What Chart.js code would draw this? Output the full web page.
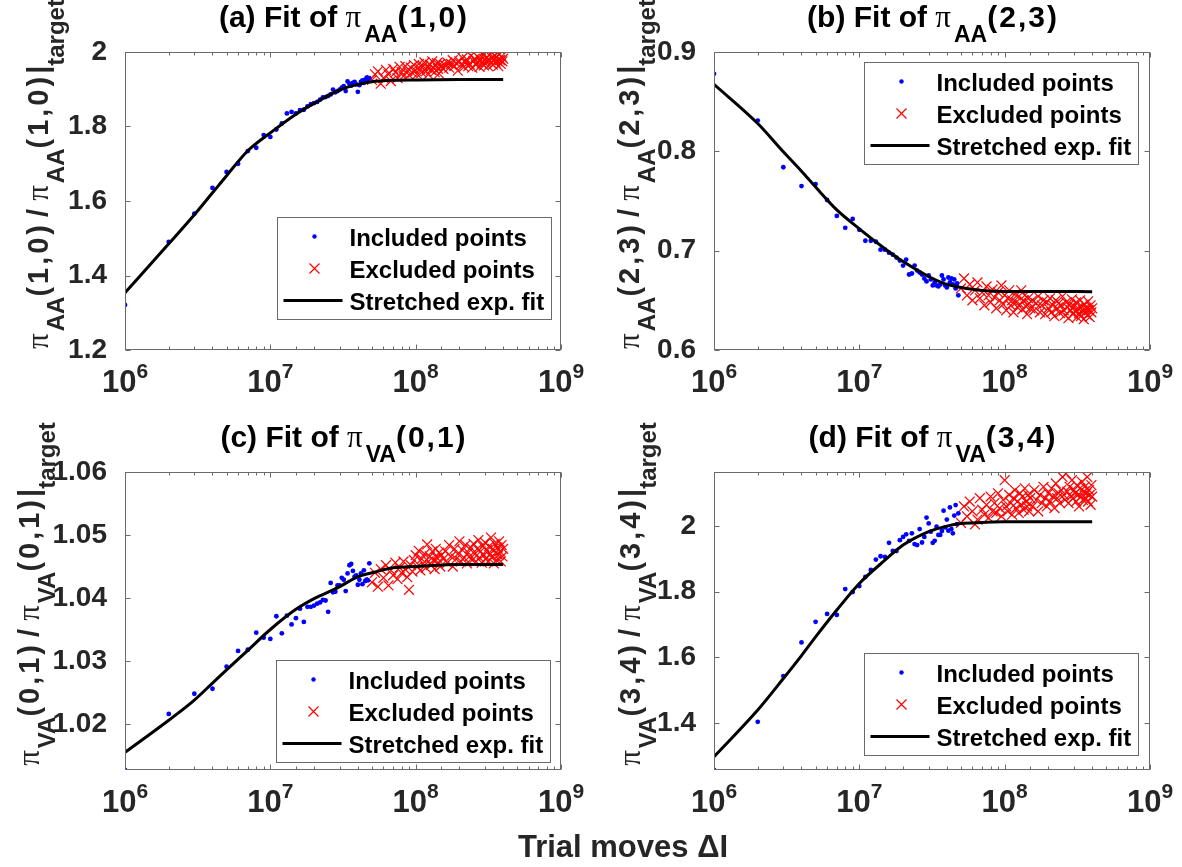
<!DOCTYPE html>
<html>
<head>
<meta charset="utf-8">
<script src="https://cdn.jsdelivr.net/npm/chart.js@4.4.1/dist/chart.umd.min.js"></script>
<style>
  body { margin: 0; background: #fff; width: 1182px; height: 867px; position: relative; overflow: hidden; }
  canvas { position: absolute; }
  #xlab { position: absolute; left: 423px; width: 400px; top: 831px; text-align: center;
          font: bold 31px 'Liberation Sans', Arial, sans-serif; line-height: 31px; color: #262626; white-space: nowrap; }
</style>
</head>
<body>
<canvas id="pa" width="590" height="420" style="left:0;top:0"></canvas>
<canvas id="pb" width="592" height="420" style="left:590px;top:0"></canvas>
<canvas id="pc" width="590" height="420" style="left:0;top:420px"></canvas>
<canvas id="pd" width="592" height="420" style="left:590px;top:420px"></canvas>
<div id="xlab">Trial moves ΔI</div>
<script>
// trial moves, in millions
let includedX = [1, 2, 3, 4, 5, 6, 7, 8, 9, 10, 11, 12, 13, 14, 15, 16, 17, 18, 19, 20,
  21, 22, 23, 24, 25, 26, 27, 28, 29, 30, 31, 32, 33, 34, 35, 36, 37, 38, 39, 40,
  41, 42, 43, 44, 45, 46, 47, 48];
let excludedX = [50, 52.5, 55, 57.5, 60, 62.5, 65, 67.5, 70, 72.5, 75, 77.5, 80, 82.5, 85, 87.5, 90, 92.5, 95, 97.5,
  100, 102.5, 105, 107.5, 110, 112.5, 115, 117.5, 120, 122.5, 125, 127.5, 130, 132.5, 135, 137.5, 140, 142.5, 145, 147.5, 150,
  155, 160, 165, 170, 175, 180, 185, 190, 195, 200, 205, 210, 215, 220, 225, 230, 235, 240, 245,
  250, 255, 260, 265, 270, 275, 280, 285, 290, 295, 300, 305, 310, 315, 320, 325, 330, 335, 340, 345,
  350, 355, 360, 365, 370, 375, 380, 385, 390, 395, 400];
let fitX = [1, 2, 3, 4, 5, 7, 10, 15, 20, 30, 40, 50, 70, 100, 200, 400];

let legendLabels = ['Included points', 'Excluded points', 'Stretched exp. fit'];
let decadeTicks = ['6', '7', '8', '9'];

// (a) pi_AA(1,0)
let yTicksA = [1.2, 1.4, 1.6, 1.8, 2];
let includedA = [1.321, 1.490, 1.566, 1.635, 1.678, 1.700, 1.734, 1.743, 1.777, 1.772,
  1.792, 1.808, 1.835, 1.839, 1.835, 1.844, 1.845, 1.854, 1.860, 1.863,
  1.866, 1.872, 1.878, 1.879, 1.882, 1.886, 1.899, 1.892, 1.895, 1.899,
  1.904, 1.908, 1.895, 1.921, 1.915, 1.910, 1.917, 1.920, 1.913, 1.893,
  1.911, 1.920, 1.924, 1.917, 1.926, 1.931, 1.925, 1.930];
let excludedA = [1.925, 1.940, 1.948, 1.915, 1.930, 1.952, 1.940, 1.922, 1.955, 1.945,
  1.930, 1.960, 1.946, 1.935, 1.962, 1.950, 1.938, 1.958, 1.944, 1.965,
  1.950, 1.940, 1.968, 1.955, 1.945, 1.962, 1.972, 1.948, 1.958, 1.940,
  1.966, 1.952, 1.975, 1.958, 1.946, 1.964, 1.970, 1.955, 1.942, 1.968, 1.960,
  1.955, 1.964, 1.972, 1.958, 1.968, 1.978, 1.962, 1.970, 1.950, 1.975,
  1.966, 1.984, 1.960, 1.972, 1.980, 1.962, 1.968, 1.990, 1.958, 1.976,
  1.982, 1.966, 1.972, 1.986, 1.960, 1.978, 1.970, 1.992, 1.964, 1.980,
  1.974, 1.986, 1.962, 1.978, 1.995, 1.970, 1.984, 1.966, 1.980, 1.990,
  1.972, 1.986, 1.976, 1.962, 1.994, 1.978, 1.968, 1.988, 1.975, 1.982];
let fitA = [1.354, 1.485, 1.563, 1.622, 1.668, 1.735, 1.783, 1.833, 1.862, 1.898, 1.913, 1.920, 1.924, 1.925, 1.926, 1.926];

// (b) pi_AA(2,3)
let yTicksB = [0.6, 0.7, 0.8, 0.9];
let includedB = [0.878, 0.831, 0.784, 0.765, 0.767, 0.751, 0.735, 0.723, 0.732, 0.721,
  0.710, 0.710, 0.709, 0.701, 0.701, 0.698, 0.696, 0.693, 0.690, 0.685,
  0.691, 0.676, 0.677, 0.685, 0.680, 0.678, 0.676, 0.672, 0.669, 0.675,
  0.671, 0.665, 0.668, 0.665, 0.664, 0.666, 0.675, 0.671, 0.665, 0.663,
  0.673, 0.668, 0.672, 0.666, 0.671, 0.662, 0.667, 0.655];
let excludedB = [0.662, 0.672, 0.655, 0.666, 0.650, 0.660, 0.668, 0.652, 0.658, 0.645,
  0.664, 0.655, 0.648, 0.661, 0.653, 0.642, 0.658, 0.650, 0.665, 0.646,
  0.655, 0.640, 0.652, 0.660, 0.645, 0.650, 0.638, 0.656, 0.648, 0.643,
  0.654, 0.646, 0.660, 0.641, 0.650, 0.655, 0.644, 0.636, 0.652, 0.647, 0.642,
  0.650, 0.640, 0.647, 0.654, 0.638, 0.645, 0.650, 0.636, 0.648, 0.642,
  0.652, 0.638, 0.645, 0.634, 0.650, 0.642, 0.647, 0.637, 0.645, 0.654,
  0.640, 0.635, 0.648, 0.643, 0.632, 0.646, 0.640, 0.651, 0.636, 0.644,
  0.639, 0.648, 0.633, 0.642, 0.637, 0.650, 0.634, 0.644, 0.640, 0.631,
  0.646, 0.638, 0.642, 0.635, 0.649, 0.640, 0.633, 0.645, 0.638, 0.642];
let fitB = [0.8675, 0.828, 0.7995, 0.780, 0.764, 0.741, 0.722, 0.702, 0.689, 0.674, 0.666, 0.663, 0.660, 0.659, 0.659, 0.6587];

// (c) pi_VA(0,1)
let yTicksC = [1.02, 1.03, 1.04, 1.05, 1.06];
let includedC = [1.0127, 1.0216, 1.0248, 1.0256, 1.0291, 1.0316, 1.0318, 1.0345, 1.0337, 1.0335,
  1.0371, 1.0344, 1.0372, 1.0358, 1.0368, 1.0383, 1.0362, 1.0386, 1.0386, 1.0388,
  1.0391, 1.0393, 1.0397, 1.0396, 1.0378, 1.0424, 1.0409, 1.0410, 1.0420, 1.0420,
  1.0432, 1.0429, 1.0411, 1.0439, 1.0452, 1.0454, 1.0443, 1.0434, 1.0436, 1.0421,
  1.0429, 1.0439, 1.0422, 1.0444, 1.0427, 1.0429, 1.0428, 1.0455];
let excludedC = [1.0425, 1.0440, 1.0418, 1.0446, 1.0432, 1.0452, 1.0420, 1.0444, 1.0436, 1.0456,
  1.0430, 1.0448, 1.0440, 1.0458, 1.0445, 1.0433, 1.0413, 1.0452, 1.0442, 1.0460,
  1.0468, 1.0450, 1.0475, 1.0444, 1.0462, 1.0455, 1.0470, 1.0448, 1.0485, 1.0458,
  1.0466, 1.0452, 1.0474, 1.0460, 1.0446, 1.0478, 1.0464, 1.0456, 1.0472, 1.0450, 1.0468,
  1.0462, 1.0474, 1.0456, 1.0484, 1.0466, 1.0450, 1.0478, 1.0462, 1.0470, 1.0490,
  1.0458, 1.0476, 1.0464, 1.0484, 1.0455, 1.0472, 1.0466, 1.0480, 1.0460, 1.0486,
  1.0470, 1.0458, 1.0478, 1.0492, 1.0464, 1.0474, 1.0456, 1.0482, 1.0468, 1.0488,
  1.0462, 1.0476, 1.0458, 1.0482, 1.0470, 1.0496, 1.0464, 1.0478, 1.0455, 1.0486,
  1.0472, 1.0460, 1.0480, 1.0468, 1.0490, 1.0474, 1.0458, 1.0484, 1.0466, 1.0478];
let fitC = [1.0155, 1.0206, 1.0238, 1.0265, 1.0286, 1.0317, 1.0350, 1.0382, 1.0399, 1.0418, 1.0434, 1.0440, 1.0448, 1.0450, 1.0453, 1.0453];

// (d) pi_VA(3,4)
let yTicksD = [1.4, 1.6, 1.8, 2];
let includedD = [1.256, 1.403, 1.5425, 1.645, 1.708, 1.732, 1.729, 1.808, 1.799, 1.817,
  1.845, 1.866, 1.898, 1.908, 1.906, 1.949, 1.924, 1.924, 1.957, 1.967,
  1.975, 1.955, 1.978, 1.945, 1.942, 1.991, 1.950, 1.967, 2.026, 2.008,
  1.983, 1.949, 1.955, 1.998, 1.973, 1.973, 1.985, 2.047, 1.996, 2.020,
  1.986, 2.057, 1.991, 1.978, 2.032, 2.064, 2.006, 2.039];
let excludedD = [2.010, 2.060, 2.030, 2.075, 2.045, 2.005, 2.020, 2.085, 2.050, 2.035,
  2.065, 2.025, 2.090, 2.045, 2.070, 2.040, 2.100, 2.055, 2.030, 2.080,
  2.140, 2.060, 2.045, 2.095, 2.070, 2.035, 2.085, 2.110, 2.055, 2.075,
  2.040, 2.100, 2.065, 2.090, 2.050, 2.115, 2.075, 2.060, 2.095, 2.045, 2.085,
  2.060, 2.110, 2.080, 2.045, 2.095, 2.070, 2.120, 2.085, 2.060, 2.100,
  2.075, 2.115, 2.090, 2.055, 2.130, 2.085, 2.100, 2.070, 2.110, 2.150,
  2.095, 2.080, 2.160, 2.105, 2.070, 2.120, 2.090, 2.140, 2.085, 2.110,
  2.100, 2.075, 2.125, 2.095, 2.060, 2.115, 2.090, 2.135, 2.080, 2.105,
  2.120, 2.085, 2.100, 2.150, 2.075, 2.110, 2.095, 2.065, 2.125, 2.090];
let fitD = [1.2964, 1.439, 1.535, 1.605, 1.662, 1.744, 1.825, 1.896, 1.942, 1.983, 2.000, 2.008, 2.011, 2.013, 2.013, 2.013];

const SANS = "'Liberation Sans', Arial, sans-serif";
const SERIF = "'Liberation Serif', 'DejaVu Serif', serif";
const INK = '#262626';
const AXIS = '#6a6a6a';

let panels = [
  { id: 'pa', tag: '(a)', sub: 'AA', pair: '(1,0)', inc: includedA, exc: excludedA, fit: fitA, ticks: yTicksA,
    yMin: 1.2, yMax: 2, padL: 30, padR: 29, legend: 'br', legDx: 10, legDy: 31, labOff: 77 },
  { id: 'pb', tag: '(b)', sub: 'AA', pair: '(2,3)', inc: includedB, exc: excludedB, fit: fitB, ticks: yTicksB,
    yMin: 0.6, yMax: 0.9, padL: 29, padR: 32, legend: 'tr', legDx: 12, legDy: 10, labOff: 75 },
  { id: 'pc', tag: '(c)', sub: 'VA', pair: '(0,1)', inc: includedC, exc: excludedC, fit: fitC, ticks: yTicksC,
    yMin: 1.0127, yMax: 1.06, padL: 30, padR: 29, legend: 'br', legDx: 11, legDy: 8, labOff: 86 },
  { id: 'pd', tag: '(d)', sub: 'VA', pair: '(3,4)', inc: includedD, exc: excludedD, fit: fitD, ticks: yTicksD,
    yMin: 1.256, yMax: 2.165, padL: 29, padR: 32, legend: 'br', legDx: 12, legDy: 15, labOff: 74 }
];

// text run with sub/superscript offsets and optional letter spacing
function drawRich(ctx, segs, cx, by) {
  let total = 0;
  segs.forEach(s => {
    ctx.font = s.f;
    s.cw = Array.from(s.t).map(ch => ctx.measureText(ch).width);
    s.w = s.ls ? s.cw.reduce((u, v) => u + v, 0) + s.ls * (s.cw.length - 1) : ctx.measureText(s.t).width;
    total += s.w + (s.gap || 0);
  });
  let x = cx - total / 2;
  ctx.textAlign = 'left';
  ctx.textBaseline = 'alphabetic';
  segs.forEach(s => {
    ctx.font = s.f;
    if (s.ls) {
      let xx = x;
      Array.from(s.t).forEach((ch, i) => { ctx.fillText(ch, xx, by + s.dy); xx += s.cw[i] + s.ls; });
    } else {
      ctx.fillText(s.t, x, by + s.dy);
    }
    x += s.w + (s.gap || 0);
  });
}

function makeDecor(p) {
  return {
    id: 'decor_' + p.id,
    afterDatasetsDraw(chart) {
      const ctx = chart.ctx;
      const a = chart.chartArea;
      const xs = chart.scales.x, ys = chart.scales.y;
      const L = Math.round(a.left) + 0.5, R = Math.round(a.right) - 0.5;
      const T = Math.round(a.top) + 0.5, B = Math.round(a.bottom) - 0.5;
      ctx.save();
      ctx.strokeStyle = AXIS;
      ctx.lineWidth = 1;
      ctx.strokeRect(L, T, R - L, B - T);
      ctx.beginPath();
      ys.ticks.forEach(t => {
        const py = Math.round(ys.getPixelForValue(t.value)) + 0.5;
        ctx.moveTo(L, py); ctx.lineTo(L + 5, py);
        ctx.moveTo(R, py); ctx.lineTo(R - 5, py);
      });
      xs.ticks.forEach(t => {
        const lg = Math.log10(t.value);
        const len = Math.abs(lg - Math.round(lg)) < 1e-9 ? 5 : 3;
        const px = Math.round(xs.getPixelForValue(t.value)) + 0.5;
        ctx.moveTo(px, B); ctx.lineTo(px, B - len);
        ctx.moveTo(px, T); ctx.lineTo(px, T + len);
      });
      ctx.stroke();

      // x tick labels 10^n
      ctx.fillStyle = INK;
      decadeTicks.forEach(e => {
        const px = xs.getPixelForValue(Math.pow(10, +e));
        ctx.font = 'bold 31px ' + SANS;
        const w1 = ctx.measureText('10').width;
        ctx.font = 'bold 21px ' + SANS;
        const w2 = ctx.measureText(e).width;
        const x0 = px - (w1 + w2) / 2;
        ctx.textAlign = 'left';
        ctx.textBaseline = 'alphabetic';
        ctx.font = 'bold 31px ' + SANS;
        ctx.fillText('10', x0, a.bottom + 42);
        ctx.font = 'bold 21px ' + SANS;
        ctx.fillText(e, x0 + w1, a.bottom + 28);
      });

      // title
      ctx.fillStyle = '#000';
      drawRich(ctx, [
        { t: p.tag + ' Fit of ', f: 'bold 30px ' + SANS, dy: 0 },
        { t: 'π', f: '31px ' + SERIF, dy: 0, gap: 3 },
        { t: p.sub, f: 'bold 23px ' + SANS, dy: 15 },
        { t: p.pair, f: 'bold 30px ' + SANS, dy: 0, ls: 2 }
      ], (a.left + a.right) / 2, a.top - 25);

      // y label
      ctx.fillStyle = INK;
      ctx.save();
      ctx.translate(a.left - p.labOff, (a.top + a.bottom) / 2 - 27);
      ctx.rotate(-Math.PI / 2);
      drawRich(ctx, [
        { t: 'π', f: '31px ' + SERIF, dy: 0, gap: 2 },
        { t: p.sub, f: 'bold 24px ' + SANS, dy: 16 },
        { t: p.pair, f: 'bold 29px ' + SANS, dy: 0, ls: 3 },
        { t: ' / ', f: 'bold 29px ' + SANS, dy: 0 },
        { t: 'π', f: '31px ' + SERIF, dy: 0, gap: 2 },
        { t: p.sub, f: 'bold 24px ' + SANS, dy: 16 },
        { t: p.pair + '|', f: 'bold 29px ' + SANS, dy: 0, ls: 3 },
        { t: 'target', f: 'bold 24px ' + SANS, dy: 16 }
      ], 0, 0);
      ctx.restore();

      // legend box
      const lw = 274, lh = 102;
      const lx = Math.round(a.right - p.legDx - lw) + 0.5;
      const ly = p.legend === 'tr' ? Math.round(a.top + p.legDy) + 0.5 : Math.round(a.bottom - p.legDy - lh) + 0.5;
      ctx.fillStyle = '#fff';
      ctx.fillRect(lx, ly, lw, lh);
      ctx.strokeStyle = AXIS;
      ctx.lineWidth = 1;
      ctx.strokeRect(lx, ly, lw, lh);
      const rows = [ly + 19, ly + 51, ly + 83];
      ctx.fillStyle = '#0000ff';
      ctx.beginPath();
      ctx.arc(lx + 37, rows[0], 2.2, 0, Math.PI * 2);
      ctx.fill();
      ctx.strokeStyle = '#ff0000';
      ctx.lineWidth = 1.2;
      ctx.beginPath();
      ctx.moveTo(lx + 32, rows[1] - 5); ctx.lineTo(lx + 42, rows[1] + 5);
      ctx.moveTo(lx + 42, rows[1] - 5); ctx.lineTo(lx + 32, rows[1] + 5);
      ctx.stroke();
      ctx.strokeStyle = '#000';
      ctx.lineWidth = 3;
      ctx.beginPath();
      ctx.moveTo(lx + 6, rows[2]); ctx.lineTo(lx + 65, rows[2]);
      ctx.stroke();
      ctx.fillStyle = '#000';
      ctx.font = 'bold 24px ' + SANS;
      ctx.textAlign = 'left';
      ctx.textBaseline = 'alphabetic';
      legendLabels.forEach((txt, i) => ctx.fillText(txt, lx + 72, rows[i] + 9));
      ctx.restore();
    }
  };
}

panels.forEach(p => {
  const ctx = document.getElementById(p.id).getContext('2d');
  new Chart(ctx, {
    type: 'scatter',
    data: {
      datasets: [{
        type: 'line',
        label: legendLabels[2],
        data: fitX.map((x, i) => ({ x: x * 1e6, y: p.fit[i] })),
        borderColor: '#000',
        borderWidth: 3,
        pointRadius: 0,
        cubicInterpolationMode: 'monotone',
        fill: false,
        order: 0
      }, {
        label: legendLabels[0],
        data: includedX.map((x, i) => ({ x: x * 1e6, y: p.inc[i] })),
        pointStyle: 'circle',
        pointRadius: 2.4,
        backgroundColor: '#0000ff',
        borderColor: '#0000ff',
        borderWidth: 0,
        order: 1
      }, {
        label: legendLabels[1],
        data: excludedX.map((x, i) => ({ x: x * 1e6, y: p.exc[i] })),
        pointStyle: 'crossRot',
        pointRadius: 7,
        borderColor: '#ff0000',
        backgroundColor: '#ff0000',
        borderWidth: 1.2,
        order: 2
      }]
    },
    options: {
      responsive: false,
      animation: false,
      layout: {
        autoPadding: false,
        padding: { left: p.padL, right: p.padR, top: 52, bottom: 0 }
      },
      plugins: {
        legend: { display: false },
        title: { display: false },
        tooltip: { enabled: false }
      },
      scales: {
        x: {
          type: 'logarithmic',
          min: 1e6,
          max: 1e9,
          grid: { display: false },
          border: { display: false },
          ticks: { display: false },
          afterFit: s => { s.height = 70; }
        },
        y: {
          type: 'linear',
          min: p.yMin,
          max: p.yMax,
          bounds: 'data',
          grid: { display: false },
          border: { display: false },
          afterBuildTicks: s => { s.ticks = p.ticks.map(v => ({ value: v })); },
          ticks: {
            padding: 10,
            color: INK,
            font: { family: SANS, size: 28, weight: 'bold' },
            callback: v => String(+v.toFixed(3))
          },
          afterFit: s => { s.width = 95; }
        }
      }
    },
    plugins: [makeDecor(p)]
  });
});
</script>
</body>
</html>
